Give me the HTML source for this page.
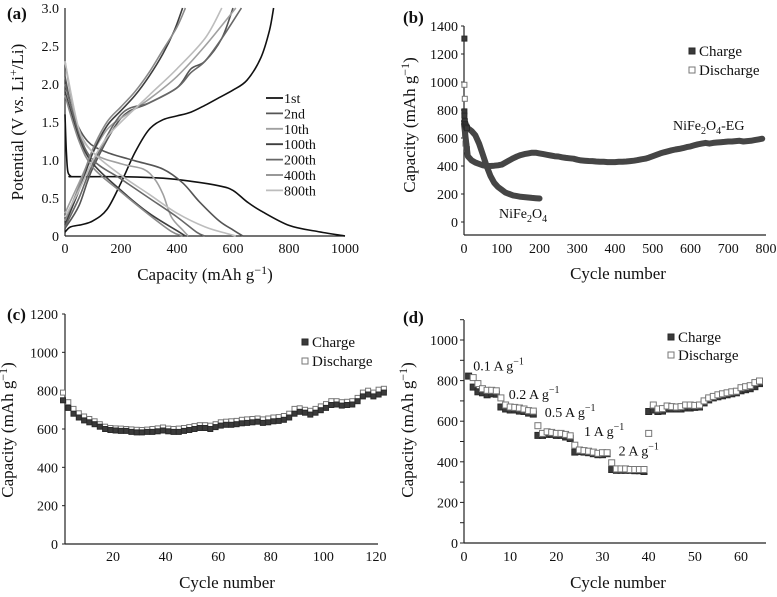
<!DOCTYPE html>
<html><head><meta charset="utf-8"><style>
html,body{margin:0;padding:0;background:#fff;}
svg, svg text, svg tspan{font-family:"Liberation Serif","Times New Roman","DejaVu Serif","Noto Serif CJK SC",serif !important;}
</style></head><body>
<svg id="fig" width="777" height="592" viewBox="0 0 777 592" xmlns="http://www.w3.org/2000/svg">
<rect width="777" height="592" fill="#fff"/>
<g id="pa"></g>
<g id="pb"></g>
<g id="pc"></g>
<g id="pd"></g>
</svg>
<script>
// ---- Panel (a) data: capacity / voltage profiles ----
const aLabels = ["1st","2nd","10th","100th","200th","400th","800th"];
const aColors = ["#111","#555","#a0a0a0","#3e3e3e","#676767","#8a8a8a","#bdbdbd"];
const aDisCap = [
 [0,5,10,20,30,200,350,450,550,600,650,700,800,900,1000],
 [0,30,80,150,250,350,420,480,550,600,635],
 [0,40,100,200,280,320,350,380,420,440],
 [0,50,100,200,300,400,430],
 [0,50,100,200,300,400,470,500],
 [0,50,100,200,300,380,420],
 [0,50,100,200,300,400,500,580,610]];
const aDisV = [
 [1.6,1.1,0.85,0.79,0.78,0.78,0.76,0.72,0.66,0.6,0.45,0.33,0.14,0.06,0],
 [2.1,1.6,1.25,1.1,0.99,0.88,0.7,0.45,0.2,0.08,0],
 [2.3,1.5,1.1,0.95,0.88,0.75,0.55,0.25,0.08,0],
 [1.9,1.3,0.95,0.6,0.3,0.07,0],
 [2.0,1.35,1.0,0.75,0.5,0.25,0.05,0],
 [1.85,1.25,0.9,0.58,0.28,0.06,0],
 [2.3,1.4,1.1,0.8,0.55,0.3,0.12,0.03,0]];
const aChCap = [
 [0,20,60,100,150,200,250,300,350,400,450,500,550,600,650,700,730,745],
 [0,50,100,200,300,400,450,500,560,600],
 [0,50,100,150,200,300,400,500,610],
 [0,50,100,150,200,250,300,350,390,420],
 [0,50,100,200,300,400,450,500,560,630],
 [0,50,100,150,200,250,300,350,400,430],
 [0,50,100,150,200,300,400,500,560]];
const aChV = [
 [0.05,0.12,0.15,0.2,0.35,0.7,1.1,1.4,1.53,1.58,1.63,1.72,1.82,1.92,2.05,2.35,2.7,3.0],
 [0.1,0.4,0.9,1.55,1.75,1.95,2.2,2.3,2.6,3.0],
 [0.3,0.7,1.1,1.4,1.55,1.8,2.1,2.5,3.0],
 [0.15,0.6,1.1,1.45,1.65,1.85,2.1,2.4,2.7,3.0],
 [0.12,0.5,0.95,1.6,1.75,1.95,2.15,2.3,2.6,3.0],
 [0.2,0.65,1.15,1.5,1.7,1.9,2.15,2.45,2.75,3.0],
 [0.25,0.6,1.0,1.3,1.5,1.85,2.2,2.6,3.0]];
const aXTicks = [0,200,400,600,800,1000];
const aYTicks = ["0","0.5","1.0","1.5","2.0","2.5","3.0"];

// ---- Panel (b) data ----
const bCyc = [];
const bEG = [700,470,440,425,415,405,400,400,402,405,410,425,440,455,468,478,485,490,495,495,490,485,480,475,470,468,462,458,455,452,445,440,438,436,435,432,430,430,428,428,428,430,430,432,435,438,442,448,452,460,470,480,490,498,505,512,518,522,528,535,540,548,555,560,565,560,565,568,570,572,575,575,578,580,575,578,580,585,590,595];
const bNF = [720,670,650,620,560,480,400,330,280,250,230,210,200,190,185,180,178,175,172,170,168];
const bEarlyCyc = [1,1,2,3,4,6,8];
const bEarlyDis = [1310,980,880,620,560,540,520];
const bEarlyCh = [790,760,720,700,690,680,670];
const bXTicks = [0,100,200,300,400,500,600,700,800];
const bYTicks = [0,200,400,600,800,1000,1200,1400];

// ---- Panel (c) data ----
const cCyc = [1,3,5,7,9,11,13,15,17,19,21,23,25,27,29,31,33,35,37,39,41,43,45,47,49,51,53,55,57,59,61,63,65,67,69,71,73,75,77,79,81,83,85,87,89,91,93,95,97,99,101,103,105,107,109,111,113,115,117,119,121,123];
const cCharge = [750,710,680,660,645,635,625,612,600,595,592,590,590,585,582,582,585,585,588,592,588,585,585,590,595,600,605,605,600,610,618,622,622,625,630,632,635,638,632,635,640,642,648,660,680,690,685,675,685,698,710,725,728,722,725,728,745,770,780,770,780,790];
const cDischarge = [790,740,705,682,665,652,640,625,612,605,603,602,600,598,596,595,597,600,603,608,602,600,602,605,610,615,620,620,617,625,635,638,640,642,648,650,652,655,650,655,660,662,668,680,705,708,700,695,705,718,730,745,745,740,742,745,762,790,800,790,805,810];
const cXTicks = [20,40,60,80,100,120];
const cYTicks = [0,200,400,600,800,1000,1200];

// ---- Panel (d) data ----
const dCyc = [1,2,3,4,5,6,7,8,9,10,11,12,13,14,15,16,17,18,19,20,21,22,23,24,25,26,27,28,29,30,31,32,33,34,35,36,37,38,39,40,41,42,43,44,45,46,47,48,49,50,51,52,53,54,55,56,57,58,59,60,61,62,63,64];
const dCharge = [822,768,745,740,730,735,733,670,660,655,655,650,648,640,635,530,530,535,535,530,530,522,515,448,450,448,445,440,435,435,440,362,358,358,358,358,356,356,352,648,655,648,650,660,660,660,660,665,665,668,670,690,705,715,720,725,730,735,740,750,755,760,770,785];
const dDischarge = [null,815,785,760,752,752,750,715,680,670,668,665,660,652,650,578,540,548,545,540,540,535,528,482,458,455,452,448,442,445,445,395,365,365,365,362,362,362,362,540,680,660,662,675,672,670,672,680,680,678,680,700,715,722,730,735,740,745,748,765,770,775,790,798];
const dXTicks = [0,10,20,30,40,50,60];
const dYTicks = [0,200,400,600,800,1000];
const dRates = ["0.1 A g","0.2 A g","0.5 A g","1 A g","2 A g"];
const dRateX = [2,9.7,17.5,26,33.5];
const dRateY = [850,710,620,527,430];

for (let i=0;i<80;i++) bCyc.push(i*10);
const NS="http://www.w3.org/2000/svg";
const FF="'Liberation Serif', 'Times New Roman', 'DejaVu Serif', 'Noto Serif CJK SC', serif";
function mk(parent,tag,attrs,text){const e=document.createElementNS(NS,tag);for(const k in attrs)e.setAttribute(k,attrs[k]);if(text!==undefined)e.textContent=text;parent.appendChild(e);return e;}
function lin(d0,d1,p0,p1){return v=>p0+(v-d0)*(p1-p0)/(d1-d0);}
function smooth(pts){let d="M"+pts[0][0].toFixed(1)+","+pts[0][1].toFixed(1);
 for(let i=0;i<pts.length-1;i++){const p0=pts[Math.max(0,i-1)],p1=pts[i],p2=pts[i+1],p3=pts[Math.min(pts.length-1,i+2)];
 const c1=[p1[0]+(p2[0]-p0[0])/6,p1[1]+(p2[1]-p0[1])/6],c2=[p2[0]-(p3[0]-p1[0])/6,p2[1]-(p3[1]-p1[1])/6];
 d+=" C"+c1[0].toFixed(1)+","+c1[1].toFixed(1)+" "+c2[0].toFixed(1)+","+c2[1].toFixed(1)+" "+p2[0].toFixed(1)+","+p2[1].toFixed(1);}
 return d;}
function axes(g,x0,y0,x1,y1,yTop){
 const ya=mk(g,"line",{x1:x0,y1:yTop,x2:x0,y2:y0,stroke:"#222","stroke-width":1.2});
 
 
 const xa=mk(g,"line",{x1:x0,y1:y0,x2:x1,y2:y0,stroke:"#222","stroke-width":1.2});
 
 
}
function label(g,x,y,txt,name,size,anchor,extra){
 const t=mk(g,"text",Object.assign({x:x,y:y,"font-size":size,"font-family":FF,"text-anchor":anchor||"middle",fill:"#111"},extra||{}),txt);
 t.style.fontFamily=FF;
 
 
 return t;
}
function ytitle(g,x,y,name){
 const t=mk(g,"text",{x:0,y:0,"font-size":17,"font-family":FF,"text-anchor":"middle",fill:"#111",transform:"translate("+x+","+y+") rotate(-90)"});
 t.style.fontFamily=FF;
 
 
 t.appendChild(document.createTextNode("Capacity (mAh g"));
 mk(t,"tspan",{dy:-6,"font-size":12},"−1");
 mk(t,"tspan",{dy:6},")");
 return t;
}
function xunits(g,x,y){
 const t=mk(g,"text",{x:x,y:y,"font-size":17,"font-family":FF,"text-anchor":"middle",fill:"#111"});
 t.style.fontFamily=FF;
 
 
 t.appendChild(document.createTextNode("Capacity (mAh g"));
 mk(t,"tspan",{dy:-6,"font-size":12},"−1");
 mk(t,"tspan",{dy:6},")");
}
function sq(g,x,y,s,filled,name){
 const r=mk(g,"rect",{x:(x-s/2).toFixed(1),y:(y-s/2).toFixed(1),width:s,height:s,fill:filled?"#3a3a3a":"#fff",stroke:filled?"#2a2a2a":"#777","stroke-width":1});
 
 
 return r;
}
function legend(g,x,y1,y2,s){
 sq(g,x,y1,s,true,'legend-charge-marker');
 label(g,x+7,y1+5,"Charge",'legend-charge-label',15,"start");
 sq(g,x,y2,s,false,'legend-discharge-marker');
 label(g,x+7,y2+5,"Discharge",'legend-discharge-label',15,"start");
}

// ===== Panel A =====
(function(){
 const g=document.getElementById("pa");
 const X=lin(0,1000,65,345),Y=lin(0,3,236,8);
 axes(g,65,236,345,236,8);
 aXTicks.forEach(v=>{label(g,X(v),253,String(v),'x-tick-label',14);});
 aYTicks.forEach((s,i)=>{label(g,59,Y(i*0.5)+5,s,'y-tick-label',14,"end");});
 for(let i=0;i<aLabels.length;i++){
  const p1=mk(g,"path",{d:smooth(aDisCap[i].map((c,j)=>[X(c),Y(aDisV[i][j])])),fill:"none",stroke:aColors[i],"stroke-width":1.6});
  
  
  const p2=mk(g,"path",{d:smooth(aChCap[i].map((c,j)=>[X(c),Y(aChV[i][j])])),fill:"none",stroke:aColors[i],"stroke-width":1.6});
  
  
  const ly=98+i*15.4;
  const ll=mk(g,"line",{x1:266,x2:283,y1:ly,y2:ly,stroke:aColors[i],"stroke-width":1.8});
  
  
  label(g,284,ly+5,aLabels[i],'legend-label-'+aLabels[i],14,"start");
 }
 label(g,7,19,"(a)",'panel-label-a',17,"start",{"font-weight":"bold"});
 xunits(g,205,280);
 const t=mk(g,"text",{x:0,y:0,"font-size":17,"font-family":FF,"text-anchor":"middle",fill:"#111",transform:"translate(23,122) rotate(-90)"});
 t.style.fontFamily=FF;
 
 
 t.appendChild(document.createTextNode("Potential (V "));
 mk(t,"tspan",{"font-style":"italic"},"vs.");
 t.appendChild(document.createTextNode(" Li"));
 mk(t,"tspan",{dy:-6,"font-size":12},"+");
 mk(t,"tspan",{dy:6},"/Li)");
})();

// ===== Panel B =====
(function(){
 const g=document.getElementById("pb");
 const X=lin(0,800,464,766),Y=lin(0,1400,222,26);
 axes(g,464,235,766,235,26);
 bYTicks.forEach(v=>{label(g,458,Y(v)+5,String(v),'y-tick-label',14,"end");
  const tk=mk(g,"line",{x1:461,x2:464,y1:Y(v),y2:Y(v),stroke:"#222"});});
 bXTicks.forEach(v=>{label(g,X(v),253,String(v),'x-tick-label',14);});
 bEarlyCyc.forEach((c,i)=>{sq(g,X(c),Y(bEarlyDis[i]),5,i===0,'point-early-discharge');});
 const l1=mk(g,"polyline",{points:bEG.map((v,i)=>X(bCyc[i]).toFixed(1)+","+Y(v).toFixed(1)).join(" "),fill:"none",stroke:"#454545","stroke-width":6,"stroke-linejoin":"round","stroke-linecap":"round"});
 
 
 const l2=mk(g,"polyline",{points:bNF.map((v,i)=>X(bCyc[i]).toFixed(1)+","+Y(v).toFixed(1)).join(" "),fill:"none",stroke:"#454545","stroke-width":6,"stroke-linejoin":"round","stroke-linecap":"round"});
 
 
 bEarlyCyc.forEach((c,i)=>{sq(g,X(c),Y(bEarlyCh[i]),5,true,'point-early-charge');});
 legend(g,692,51,70,6);
 label(g,403,23,"(b)",'panel-label-b',17,"start",{"font-weight":"bold"});
 const t1=label(g,673,130,"NiFe",'annotation-nife2o4-eg',14,"start");
 mk(t1,"tspan",{dy:4,"font-size":10},"2");mk(t1,"tspan",{dy:-4},"O");mk(t1,"tspan",{dy:4,"font-size":10},"4");mk(t1,"tspan",{dy:-4},"-EG");
 const t2=label(g,499,218,"NiFe",'annotation-nife2o4',14,"start");
 mk(t2,"tspan",{dy:4,"font-size":10},"2");mk(t2,"tspan",{dy:-4},"O");mk(t2,"tspan",{dy:4,"font-size":10},"4");
 label(g,618,279,"Cycle number",'x-axis-title',17);
 ytitle(g,415,125,'y-axis-title');
})();

// ===== Panel C =====
(function(){
 const g=document.getElementById("pc");
 const X=lin(20,120,113,376),Y=lin(0,1200,544,314);
 axes(g,65,544,378,544,314);
 cYTicks.forEach(v=>{label(g,58,Y(v)+5,String(v),'y-tick-label',14,"end");
  const tk=mk(g,"line",{x1:62,x2:65,y1:Y(v),y2:Y(v),stroke:"#222"});});
 cXTicks.forEach(v=>{label(g,X(v),561,String(v),'x-tick-label',14);});
 cCyc.forEach((c,i)=>{sq(g,X(c),Y(cDischarge[i]),5,false,'point-discharge');});
 cCyc.forEach((c,i)=>{sq(g,X(c),Y(cCharge[i]),5,true,'point-charge');});
 legend(g,305,342,361,6);
 label(g,7,320,"(c)",'panel-label-c',17,"start",{"font-weight":"bold"});
 label(g,227,588,"Cycle number",'x-axis-title',17);
 ytitle(g,13,430,'y-axis-title');
})();

// ===== Panel D =====
(function(){
 const g=document.getElementById("pd");
 const X=lin(0,60,464,741),Y=lin(0,1000,543,340);
 axes(g,464,543,766,543,320);
 for(let v=0;v<=1100;v+=100){const tk=mk(g,"line",{x1:460,x2:464,y1:Y(v),y2:Y(v),stroke:"#222"});}
 dYTicks.forEach(v=>{label(g,458,Y(v)+5,String(v),'y-tick-label',14,"end");});
 dXTicks.forEach(v=>{label(g,X(v),561,String(v),'x-tick-label',14);});
 dCyc.forEach((c,i)=>{if(dCharge[i]!==null)sq(g,X(c),Y(dCharge[i]),6,true,'point-charge');});
 dCyc.forEach((c,i)=>{if(dDischarge[i]!==null)sq(g,X(c),Y(dDischarge[i]),6,false,'point-discharge');});
 dRates.forEach((r,i)=>{const t=label(g,X(dRateX[i]),Y(dRateY[i]),r,'rate-annotation',14,"start");mk(t,"tspan",{dy:-6,"font-size":10},"−1");});
 legend(g,671,337,355,6);
 label(g,403,323,"(d)",'panel-label-d',17,"start",{"font-weight":"bold"});
 label(g,618,588,"Cycle number",'x-axis-title',17);
 ytitle(g,413,430,'y-axis-title');
})();
</script>
</body></html>
